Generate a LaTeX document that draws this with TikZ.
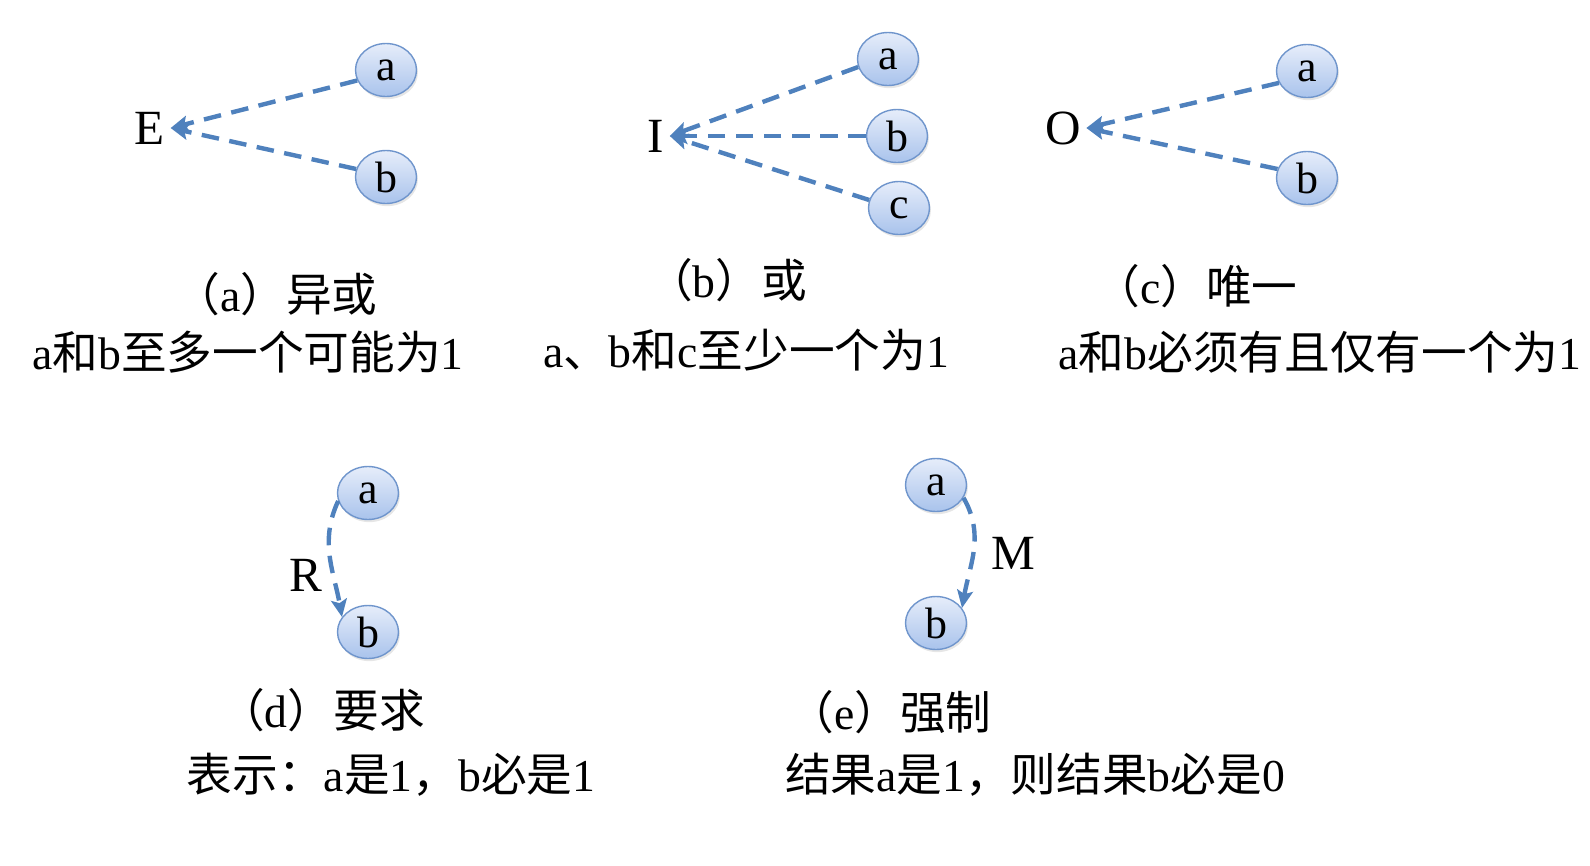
\documentclass[tikz,border=0pt]{standalone}
\usepackage{fontspec}
\setmainfont{Liberation Serif}
\newfontfamily\cjk{Noto Sans CJK SC}
\newcommand{\zh}[1]{{\cjk #1}}
\usetikzlibrary{shapes.geometric,arrows.meta,shadows}
\definecolor{linkblue}{HTML}{4F81BD}
\definecolor{ballline}{HTML}{6F95CC}
\definecolor{balltop}{HTML}{E6EDFA}
\definecolor{ballbot}{HTML}{A9C3EC}

\begin{document}
\begin{tikzpicture}[x=0.02cm,y=-0.02cm,
    ball/.style={ellipse,draw=ballline,line width=0.8pt,top color=balltop,bottom color=ballbot,
      minimum width=1.22cm,minimum height=1.06cm,inner sep=0pt,font=\fontsize{25}{25}\selectfont,
      drop shadow={opacity=0.2,shadow xshift=0.8pt,shadow yshift=-1.5pt}},
    opname/.style={inner sep=3pt,font=\fontsize{28}{28}\selectfont},
    captext/.style={anchor=base,inner sep=0pt,font=\fontsize{26}{30}\selectfont},
    link/.style={draw=linkblue,line width=2.5pt,dash pattern=on 10pt off 6pt},
    linktip/.style={-{Stealth[length=10pt,width=9pt,inset=2pt]}}]
    \useasboundingbox (0,0) rectangle (1590,866);

    % (a) exclusive
    \node[opname] (E) at (150,128) {E};
    \node[ball] (ea) at (386,70) {a};
    \node[ball] (eb) at (386,177) {b};
    \draw[link,linktip] (ea.200) -- (E.east);
    \draw[link,linktip] (eb.165) -- (E.east);
    \node[captext] (capa) at (276,311) {\zh{（}a\zh{）异或}};
    \node[captext] (desca) at (248,369) {a\zh{和}b\zh{至多一个可能为}1};

    % (b) inclusive
    \node[opname] (I) at (656,136) {I};
    \node[ball] (ia) at (888,59) {a};
    \node[ball] (ib) at (897,136) {b};
    \node[ball] (ic) at (899,208) {c};
    \draw[link,linktip] (ia.195) -- (I.east);
    \draw[link,linktip] (ib.west) -- (I.east);
    \draw[link,linktip] (ic.165) -- (I.east);
    \node[captext] (capb) at (727,297) {\zh{（}b\zh{）或}};
    \node[captext] (descb) at (746,367) {a\zh{、}b\zh{和}c\zh{至少一个为}1};

    % (c) one and only one
    \node[opname] (O) at (1063,128) {O};
    \node[ball] (oa) at (1307,71) {a};
    \node[ball] (ob) at (1307,178) {b};
    \draw[link,linktip] (oa.203) -- (O.east);
    \draw[link,linktip] (ob.163) -- (O.east);
    \node[captext] (capc) at (1196,303) {\zh{（}c\zh{）唯一}};
    \node[captext] (descc) at (1320,369) {a\zh{和}b\zh{必须有且仅有一个为}1};

    % (d) requires
    \node[ball] (ra) at (368,493) {a};
    \node[ball] (rb) at (368,632) {b};
    \node[opname] (R) at (306,575) {R};
    \draw[link,linktip] (ra.195) to[out=245,in=100] (rb.150);
    \node[captext] (capd) at (322,727) {\zh{（}d\zh{）要求}};
    \node[captext] (descd) at (391,791) {\zh{表示：}a\zh{是}1\zh{，}b\zh{必是}1};

    % (e) masks
    \node[ball] (ma) at (936,485) {a};
    \node[ball] (mb) at (936,623) {b};
    \node[opname] (M) at (1013,553) {M};
    \draw[link,linktip] (ma.335) to[out=-60,in=80] (mb.30);
    \node[captext] (cape) at (890,729) {\zh{（}e\zh{）强制}};
    \node[captext] (desce) at (1035,791) {\zh{结果}a\zh{是}1\zh{，则结果}b\zh{必是}0};
\end{tikzpicture}
\end{document}
